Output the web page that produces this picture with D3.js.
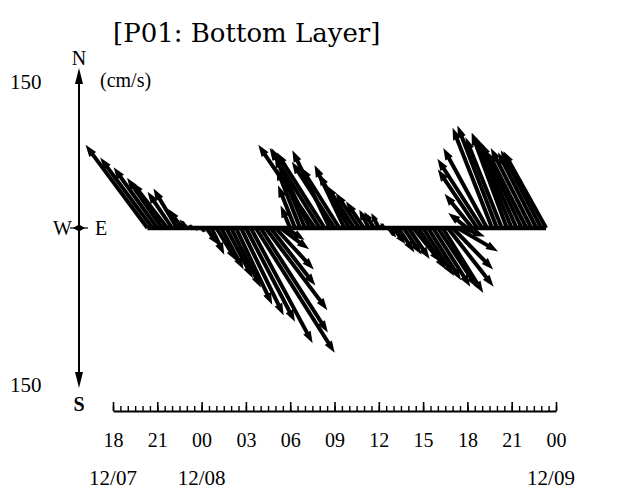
<!DOCTYPE html>
<html><head><meta charset="utf-8">
<script src="https://cdn.jsdelivr.net/npm/d3@7"></script>
<style>
html,body{margin:0;padding:0;background:#fff;}
svg text{font-family:"Liberation Serif","Times New Roman",serif;fill:#000;}
</style></head>
<body><svg id="c" width="623" height="493"></svg>
<script>
// ---- data ----
// hours since 12/07 00:00 (20-minute samples)
const hours = [20.33,20.67,21.00,21.33,21.67,22.00,22.33,22.67,23.00,23.33,23.67,
  24.00,24.33,24.67,25.00,25.33,25.67,26.00,26.33,26.67,27.00,27.33,27.67,28.00,28.33,28.67,29.00,29.33,29.67,
  30.00,30.33,30.67,31.00,31.33,31.67,32.00,32.33,32.67,33.00,33.33,33.67,34.00,34.33,34.67,35.00,35.33,35.67,36.00,36.33,
  36.67,37.00,37.33,37.67,38.00,38.33,38.67,39.00,39.33,39.67,40.00,40.33,40.67,41.00,41.33,41.67,
  42.00,42.33,42.67,43.00,43.33,43.67,44.00,44.33,44.67,45.00,45.33,45.67,46.00,46.33,46.67,47.00,47.33];
// east component (cm/s)
const east = [-58,-49,-41,-33,-33,-23,-22,-13,-7,-3,2,
  4,10,12,19,21,25,28,34,40,46,58,74,63,58,42,36,27,18,
  -9,-16,-22,-28,-36,-53,-47,-45,-35,-40,-36,-28,-29,-26,-22,-17,-9,-9,-7,-3,
  7,11,15,17,20,26,26,29,31,35,37,38,43,38,38,21,
  -18,-26,-37,-42,-41,-37,-37,-34,-33,-37,-38,-38,-36,-38,-36,-38,-40];
// north component (cm/s)
const north = [78,66,57,47,43,34,37,18,8,3,-2,
  -4,-15,-25,-31,-39,-47,-56,-72,-82,-88,-108,-117,-98,-77,-54,-39,-20,-11,
  21,40,56,68,75,78,75,71,73,62,57,59,51,40,33,25,17,15,14,5,
  -9,-15,-23,-25,-29,-32,-39,-45,-49,-55,-56,-61,-55,-39,-22,-8,
  14,32,55,65,75,94,96,85,89,89,85,80,71,75,71,73,72];
const tickHours = [18,21,24,27,30,33,36,39,42,45,48];
const tickLabels = ["18","21","00","03","06","09","12","15","18","21","00"];
const minorHours = [18,18.5,19,19.5,20,20.5,21,21.5,22,22.5,23,23.5,24,24.5,25,25.5,26,26.5,27,27.5,28,28.5,29,29.5,
  30,30.5,31,31.5,32,32.5,33,33.5,34,34.5,35,35.5,36,36.5,37,37.5,38,38.5,39,39.5,40,40.5,41,41.5,42,42.5,43,43.5,
  44,44.5,45,45.5,46,46.5,47,47.5,48];
const dateHours = [18,24,48];
const dateLabels = ["12/07","12/08","12/09"];
const scaleMax = 150;

// ---- drawing ----
const svg = d3.select("#c");
const x = d3.scaleLinear().domain([18,48]).range([113,556]);
const y = d3.scaleLinear().domain([-scaleMax,scaleMax]).range([388,68]);
const k = (y(0)-y(scaleMax))/scaleMax; // px per cm/s
const y0 = y(0);

// title
svg.append("text").attr("x",113).attr("y",42)
  .style("font-family","'DejaVu Serif',serif").style("font-size","26px")
  .text("[P01: Bottom Layer]");

// compass axis
const cx = 79;
svg.append("line").attr("x1",cx).attr("x2",cx).attr("y1",y(scaleMax)+4).attr("y2",y(-scaleMax)-4)
  .attr("stroke","#000").attr("stroke-width",2);
function headPath(tx,ty,ux,uy,len,hw){
  const bx=tx-ux*len, by=ty-uy*len, px=-uy, py=ux;
  return `M${tx},${ty}L${bx+px*hw},${by+py*hw}L${bx-px*hw},${by-py*hw}Z`;
}
svg.append("path").attr("d",headPath(cx,y(scaleMax),0,-1,16,4)).attr("fill","#000");
svg.append("path").attr("d",headPath(cx,y(-scaleMax),0,1,16,4)).attr("fill","#000");
svg.append("path").attr("d",`M${cx-6},${y0}L${cx},${y0-3.5}L${cx+6},${y0}L${cx},${y0+3.5}Z`).attr("fill","#000");
svg.append("line").attr("x1",cx-9).attr("x2",cx+9).attr("y1",y0).attr("y2",y0).attr("stroke","#000").attr("stroke-width",1.2);

svg.append("text").attr("x",cx).attr("y",y(scaleMax)-3).attr("text-anchor","middle").style("font-size","20px").text("N");
svg.append("text").attr("x",cx).attr("y",y(-scaleMax)+23).attr("text-anchor","middle").style("font-size","20px").style("font-weight","bold").text("S");
svg.append("text").attr("x",cx-7).attr("y",y0+7).attr("text-anchor","end").style("font-size","20px").text("W");
svg.append("text").attr("x",cx+16).attr("y",y0+7).attr("text-anchor","start").style("font-size","20px").text("E");
svg.append("text").attr("x",10).attr("y",y(scaleMax)+21).style("font-size","21px").text(String(scaleMax));
svg.append("text").attr("x",10).attr("y",y(-scaleMax)+4).style("font-size","21px").text(String(scaleMax));
svg.append("text").attr("x",100).attr("y",y(scaleMax)+19).style("font-size","20px").text("(cm/s)");

// baseline
svg.append("line").attr("x1",x(hours[0])).attr("x2",x(hours[hours.length-1]))
  .attr("y1",y0).attr("y2",y0).attr("stroke","#000").attr("stroke-width",4.5);

// vectors
const g = svg.append("g");
hours.forEach((h,i)=>{
  const x0 = x(h);
  const dx = east[i]*k, dy = -north[i]*k;
  const L = Math.hypot(dx,dy);
  if (L < 0.5) return;
  const ux = dx/L, uy = dy/L;
  const hl = Math.min(12, L*0.5), hw = Math.min(4.2, hl*0.4);
  const tx = x0+dx, ty = y0+dy;
  g.append("line").attr("x1",x0).attr("y1",y0).attr("x2",tx-ux*hl*0.6).attr("y2",ty-uy*hl*0.6)
    .attr("stroke","#000").attr("stroke-width",4);
  g.append("path").attr("d",headPath(tx,ty,ux,uy,hl,hw)).attr("fill","#000");
});

// time axis
const axY = 411;
const major = d3.axisBottom(x).tickValues(tickHours).tickSizeInner(-9).tickSizeOuter(0)
  .tickPadding(22).tickFormat((d,i)=>tickLabels[i]);
const gA = svg.append("g").attr("transform",`translate(0,${axY})`).call(major);
gA.selectAll("line").attr("stroke","#000").attr("stroke-width",1.6);
gA.select(".domain").attr("stroke","#000").attr("stroke-width",2);
gA.selectAll("text").style("font-family","'Liberation Serif',serif").style("font-size","20px").attr("fill","#000");
const minor = d3.axisBottom(x).tickValues(minorHours).tickSizeInner(-5).tickSizeOuter(0).tickFormat("");
const gM = svg.append("g").attr("transform",`translate(0,${axY})`).call(minor);
gM.selectAll("line").attr("stroke","#000").attr("stroke-width",1.4);
gM.select(".domain").remove();

// date labels
svg.selectAll(".date").data(dateHours).enter().append("text").attr("class","date")
  .attr("x",(d,i)=> i===2 ? x(d)-5 : x(d)).attr("y",485).attr("text-anchor","middle")
  .style("font-size","21px").text((d,i)=>dateLabels[i]);
</script></body></html>
